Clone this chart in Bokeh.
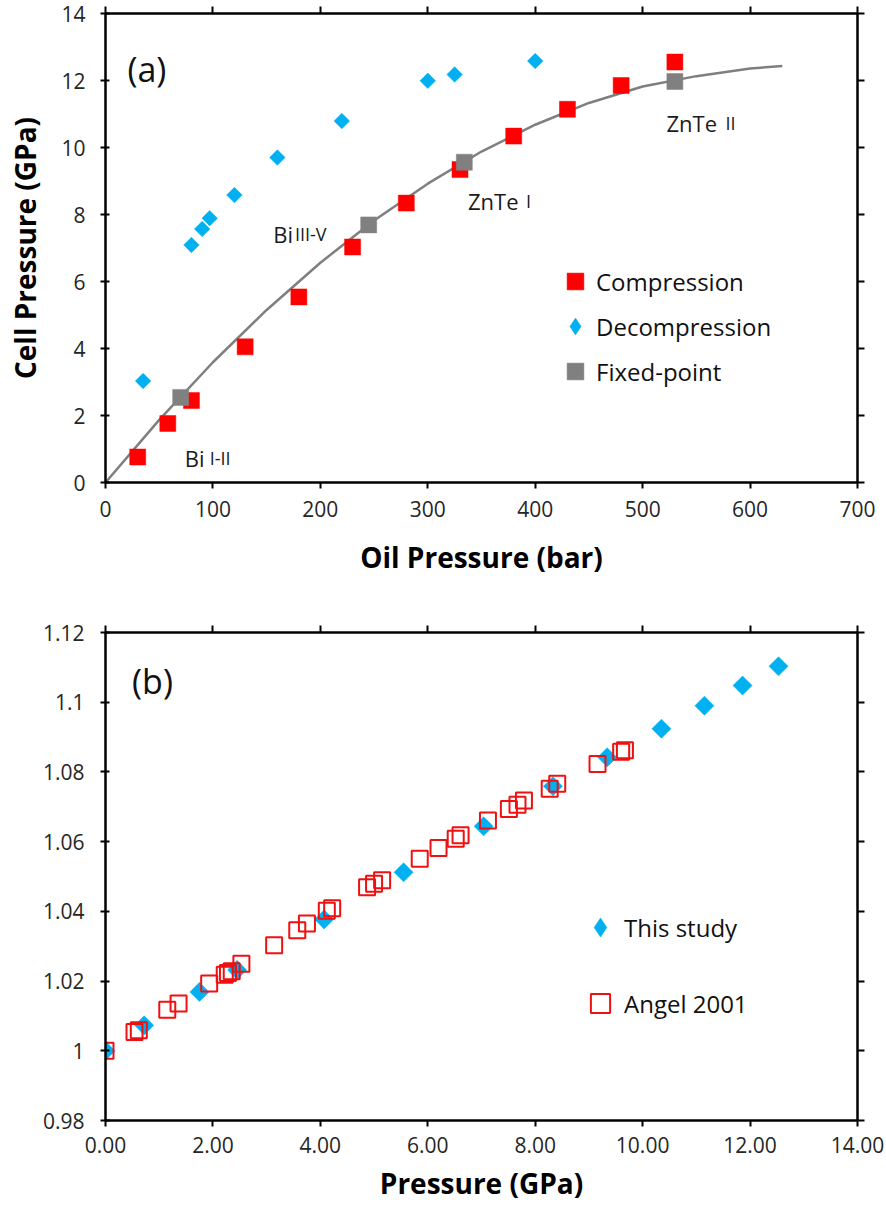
import math
from bokeh.plotting import figure
from bokeh.models import (LinearAxis, FixedTicker, Range1d, Legend, LegendItem,
                          Label, ColumnDataSource)
from bokeh.layouts import column
from bokeh.embed import file_html
from bokeh.resources import INLINE
from bokeh.core.properties import value

# ---------------- data: panel (a) ----------------
comp_oil = [30, 58, 80, 130, 180, 230, 280, 330, 380, 430, 480, 530]
comp_cell = [0.76, 1.76, 2.45, 4.05, 5.54, 7.03, 8.34, 9.34, 10.34, 11.14, 11.85, 12.55]
decomp_oil = [35, 80, 90, 97, 120, 160, 220, 300, 325, 400]
decomp_cell = [3.03, 7.09, 7.57, 7.89, 8.58, 9.70, 10.79, 11.99, 12.18, 12.58]
fixed_oil = [70, 245, 334, 530]
fixed_cell = [2.54, 7.69, 9.56, 11.97]
fit_oil = [0, 50, 100, 150, 200, 250, 300, 350, 400, 450, 500, 550, 600, 630]
fit_cell = [0, 1.87, 3.59, 5.15, 6.56, 7.82, 8.92, 9.88, 10.68, 11.33, 11.82, 12.13, 12.36, 12.43]

a_xticks = [0, 100, 200, 300, 400, 500, 600, 700]
a_yticks = [0, 2, 4, 6, 8, 10, 12, 14]

ann_main_text = ["Bi", "Bi", "ZnTe", "ZnTe"]
ann_sub_text = ["I-II", "III-V", "I", "II"]
ann_main_x = [73.8, 156.2, 337.4, 522.2]
ann_sub_x = [97.0, 176.3, 391.5, 577.2]
ann_y = [0.74, 7.41, 8.41, 10.73]

# ---------------- data: panel (b) ----------------
this_p = [0, 0.72, 1.75, 2.45, 4.07, 5.55, 7.04, 8.33, 9.34, 10.35, 11.15, 11.86, 12.53]
this_r = [1.0, 1.0073, 1.0169, 1.0232, 1.0377, 1.0512, 1.0644, 1.0759, 1.0842,
          1.0924, 1.0990, 1.1048, 1.1103]
angel_p = [0, 0.54, 0.62, 1.15, 1.36, 1.93, 2.22, 2.28, 2.35, 2.53, 3.14, 3.57, 3.75,
           4.12, 4.22, 4.87, 5.0, 5.15, 5.85, 6.2, 6.52, 6.61, 7.12, 7.51, 7.67, 7.79,
           8.27, 8.41, 9.16, 9.6, 9.67]
angel_r = [1.0, 1.0054, 1.0059, 1.0118, 1.0136, 1.0193, 1.0218, 1.0223, 1.0228, 1.025,
           1.0303, 1.0346, 1.0365, 1.0402, 1.0409, 1.0469, 1.0479, 1.0489, 1.0551,
           1.0582, 1.0608, 1.0618, 1.0661, 1.0694, 1.0706, 1.0718, 1.0752, 1.0766,
           1.0823, 1.0858, 1.0862]

b_xticks = [0, 2, 4, 6, 8, 10, 12, 14]
b_xlabels = ["0.00", "2.00", "4.00", "6.00", "8.00", "10.00", "12.00", "14.00"]
b_yticks = [0.98, 1.0, 1.02, 1.04, 1.06, 1.08, 1.10, 1.12]
b_ylabels = ["0.98", "1", "1.02", "1.04", "1.06", "1.08", "1.1", "1.12"]

# ---------------- styles ----------------
FONT = "Open Sans"
RED = "#FF0000"
BLUE = "#00B0F0"
GREY = "#808080"
TICK_COL = "#262626"


def style_axis(ax, tick_in, tick_out, show_labels=True, ls=12):
    ax.axis_line_color = "black"
    ax.axis_line_width = 2.5
    ax.major_tick_line_color = "black"
    ax.major_tick_line_width = 2
    ax.major_tick_in = tick_in
    ax.major_tick_out = tick_out
    ax.minor_tick_line_color = None
    ax.major_label_text_font = FONT
    if show_labels:
        ax.major_label_text_color = TICK_COL
        ax.major_label_text_font_size = "21px"
        ax.major_label_standoff = ls
    else:
        ax.major_label_text_color = None
        ax.major_label_text_font_size = "1px"
        ax.major_label_standoff = 0
    ax.axis_label_text_font = FONT
    ax.axis_label_text_font_style = "bold"
    ax.axis_label_text_font_size = "28px"
    ax.axis_label_text_color = "black"


# ================= panel (a) =================
p1 = figure(width=886, height=613, x_range=Range1d(0, 700), y_range=Range1d(0, 14),
            output_backend="svg", toolbar_location=None,
            x_axis_label="Oil Pressure (bar)", y_axis_label="Cell Pressure (GPa)",
            min_border_left=104, min_border_right=29, min_border_top=13,
            min_border_bottom=131)
p1.grid.visible = False
p1.outline_line_color = None
p1.background_fill_color = "white"

p1.xaxis.ticker = FixedTicker(ticks=a_xticks)
p1.yaxis.ticker = FixedTicker(ticks=a_yticks)
style_axis(p1.xaxis[0], 0, 6, ls=12)
p1.xaxis[0].axis_label_standoff = 18
style_axis(p1.yaxis[0], 4, 5, ls=15)
p1.yaxis[0].axis_label_standoff = 14

top1 = LinearAxis(ticker=FixedTicker(ticks=a_xticks))
style_axis(top1, 0, 7, show_labels=False)
p1.add_layout(top1, "above")
right1 = LinearAxis(ticker=FixedTicker(ticks=a_yticks))
style_axis(right1, 0, 7, show_labels=False)
p1.add_layout(right1, "right")

p1.line(fit_oil, fit_cell, line_color="#7F7F7F", line_width=2.5)
r_comp = p1.scatter(comp_oil, comp_cell, marker="square", size=16,
                    fill_color=RED, line_color=RED, line_width=0.5)
r_dec = p1.scatter(decomp_oil, decomp_cell, marker="square", size=11, angle=math.pi / 4,
                   fill_color=BLUE, line_color=BLUE, line_width=0.5)
r_fix = p1.scatter(fixed_oil, fixed_cell, marker="square", size=16,
                   fill_color=GREY, line_color=GREY, line_width=0.5)
# hidden twin of the decompression series, used only for the legend symbol
r_dec_leg = p1.scatter(decomp_oil, decomp_cell, marker="diamond", size=11,
                       fill_color=BLUE, line_color=BLUE, line_width=0.5, visible=False)

ann_src = ColumnDataSource(dict(x=ann_main_x, y=ann_y, t=ann_main_text))
sub_src = ColumnDataSource(dict(x=ann_sub_x, y=ann_y, t=ann_sub_text))
p1.text(x="x", y="y", text="t", source=ann_src, text_font=value(FONT),
        text_font_size="22px", text_color="#1a1a1a", text_align="left",
        text_baseline="alphabetic")
p1.text(x="x", y="y", text="t", source=sub_src, text_font=value(FONT),
        text_font_size="18px", text_color="#1a1a1a", text_align="left",
        text_baseline="alphabetic")

p1.add_layout(Label(x=38.5, y=12.35, text="(a)", text_font=FONT, text_font_size="34px",
                    text_color="#111111", text_align="center", text_baseline="middle"))

leg1 = Legend(items=[LegendItem(label="Compression", renderers=[r_comp]),
                     LegendItem(label="Decompression", renderers=[r_dec_leg]),
                     LegendItem(label="Fixed-point", renderers=[r_fix])],
              location=(449, 90), orientation="vertical",
              glyph_width=42, glyph_height=42, spacing=3, padding=0, margin=0,
              label_standoff=-8, border_line_color=None, background_fill_alpha=0,
              inactive_fill_alpha=0,
              label_text_font=FONT, label_text_font_size="24px",
              label_text_color="#111111")
p1.add_layout(leg1)

# ================= panel (b) =================
p2 = figure(width=886, height=603, x_range=Range1d(0, 14), y_range=Range1d(0.98, 1.12),
            output_backend="svg", toolbar_location=None,
            x_axis_label="Pressure (GPa)",
            min_border_left=105, min_border_right=29, min_border_top=19,
            min_border_bottom=96)
p2.grid.visible = False
p2.outline_line_color = None
p2.background_fill_color = "white"

p2.xaxis.ticker = FixedTicker(ticks=b_xticks)
p2.xaxis.major_label_overrides = {t: l for t, l in zip(b_xticks, b_xlabels)}
p2.yaxis.ticker = FixedTicker(ticks=b_yticks)
p2.yaxis.major_label_overrides = {t: l for t, l in zip(b_yticks, b_ylabels)}
style_axis(p2.xaxis[0], 0, 6, ls=10)
p2.xaxis[0].axis_label_standoff = 8
style_axis(p2.yaxis[0], 4, 5, ls=16)

top2 = LinearAxis(ticker=FixedTicker(ticks=b_xticks))
style_axis(top2, 0, 7, show_labels=False)
p2.add_layout(top2, "above")
right2 = LinearAxis(ticker=FixedTicker(ticks=b_yticks))
style_axis(right2, 0, 7, show_labels=False)
p2.add_layout(right2, "right")

r_this = p2.scatter(this_p, this_r, marker="square", size=13.5, angle=math.pi / 4,
                    fill_color=BLUE, line_color=BLUE, line_width=0.5)
r_this_leg = p2.scatter(this_p, this_r, marker="diamond", size=13.5,
                        fill_color=BLUE, line_color=BLUE, line_width=0.5, visible=False)
r_angel = p2.scatter(angel_p, angel_r, marker="square", size=16,
                     fill_color=None, line_color="#EE1111", line_width=2)

p2.add_layout(Label(x=-83, y=244, x_units="screen", y_units="screen", text="ρ/ρ₀",
                    angle=math.pi / 2, text_font=FONT, text_font_size="28px",
                    text_font_style="bold", text_color="black",
                    text_align="center", text_baseline="alphabetic"))

p2.add_layout(Label(x=0.875, y=1.1062, text="(b)", text_font=FONT, text_font_size="34px",
                    text_color="#111111", text_align="center", text_baseline="middle"))

leg2 = Legend(items=[LegendItem(label="This study", renderers=[r_this_leg]),
                     LegendItem(label="Angel 2001", renderers=[r_angel])],
              location=(471, 93), orientation="vertical",
              glyph_width=48, glyph_height=48, spacing=28, padding=0, margin=0,
              label_standoff=-10, border_line_color=None, background_fill_alpha=0,
              inactive_fill_alpha=0,
              label_text_font=FONT, label_text_font_size="24px",
              label_text_color="#111111")
p2.add_layout(leg2)

layout = column(p1, p2)
open("out.html", "w").write(file_html(layout, INLINE))
